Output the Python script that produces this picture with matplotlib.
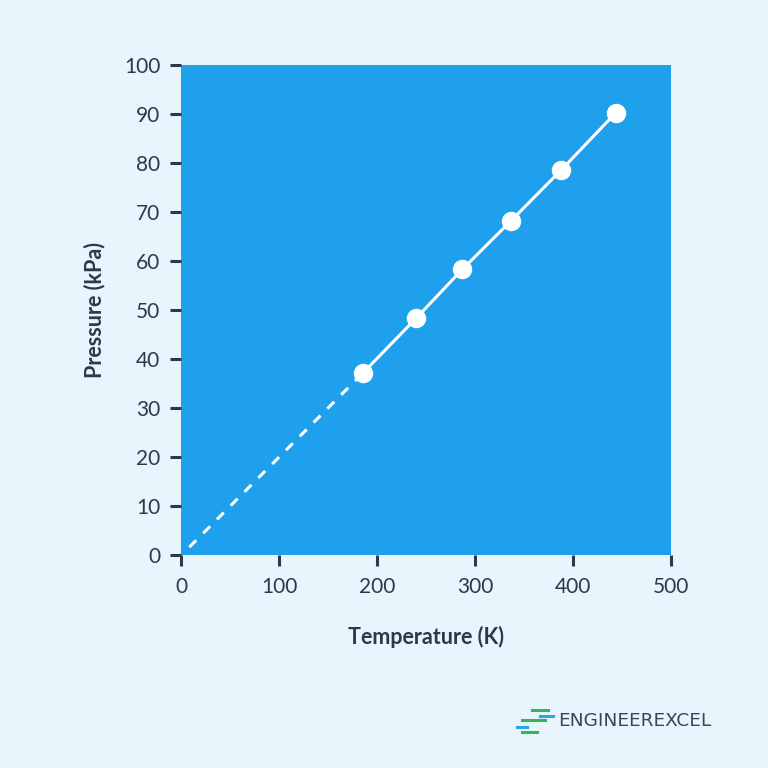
import matplotlib
matplotlib.use("Agg")
import matplotlib.pyplot as plt
from matplotlib.lines import Line2D

temperature = [185.4, 239.8, 287.1, 336.7, 388.1, 443.9]
pressure = [37.1, 48.3, 58.3, 68.2, 78.6, 90.3]
extrap_temperature = [8.5, 185.4]
extrap_pressure = [1.6, 37.1]
x_ticks = [0, 100, 200, 300, 400, 500]
y_ticks = [0, 10, 20, 30, 40, 50, 60, 70, 80, 90, 100]

bg = "#e8f5fd"
axcol = "#1fa0ec"
dark = "#2b3a4b"

plt.rcParams['font.family'] = ['Lato', 'DejaVu Sans']

fig = plt.figure(figsize=(7.68, 7.68), dpi=100, facecolor=bg)
ax = fig.add_axes([181/768, 213/768, 490/768, 490/768])
ax.set_facecolor(axcol)
for s in ax.spines.values():
    s.set_visible(False)

ax.plot(extrap_temperature, extrap_pressure, color="white", lw=2.2,
        linestyle=(0, (3.2, 3.2)), solid_capstyle="butt")
ax.plot(temperature, pressure, color="white", lw=2.2, marker="o",
        markersize=13, markerfacecolor="white", markeredgecolor="white", zorder=3)

ax.set_xlim(0, 500)
ax.set_ylim(0, 100)
ax.set_xticks(x_ticks)
ax.set_yticks(y_ticks)
ax.tick_params(axis="both", colors=dark, labelcolor=dark, length=8, width=2.2,
               labelsize=15, direction="out")
ax.tick_params(axis="y", pad=7)
ax.tick_params(axis="x", pad=8)

ax.set_xlabel("Temperature (K)", fontsize=15.5, fontweight="bold", color=dark, labelpad=21)
ax.set_ylabel("Pressure (kPa)", fontsize=15.5, fontweight="bold", color=dark, labelpad=13)

# logo
fig.text(558/768, 1 - 721/768, "ENGINEEREXCEL", fontsize=13.3, color="#3a4654",
         va="center", ha="left", family=["DejaVu Sans"])
for (x0, x1, y, c) in [(532, 548, 710, "#37b45a"), (540, 553, 716, "#2ea3ec"),
                        (522, 545, 720, "#37b45a"), (517, 527, 726.5, "#2ea3ec"),
                        (522, 537, 732, "#37b45a")]:
    fig.add_artist(Line2D([x0/768, x1/768], [1 - y/768, 1 - y/768], color=c, lw=2.2,
                          transform=fig.transFigure))

fig.savefig("out.png", dpi=100, facecolor=bg)
